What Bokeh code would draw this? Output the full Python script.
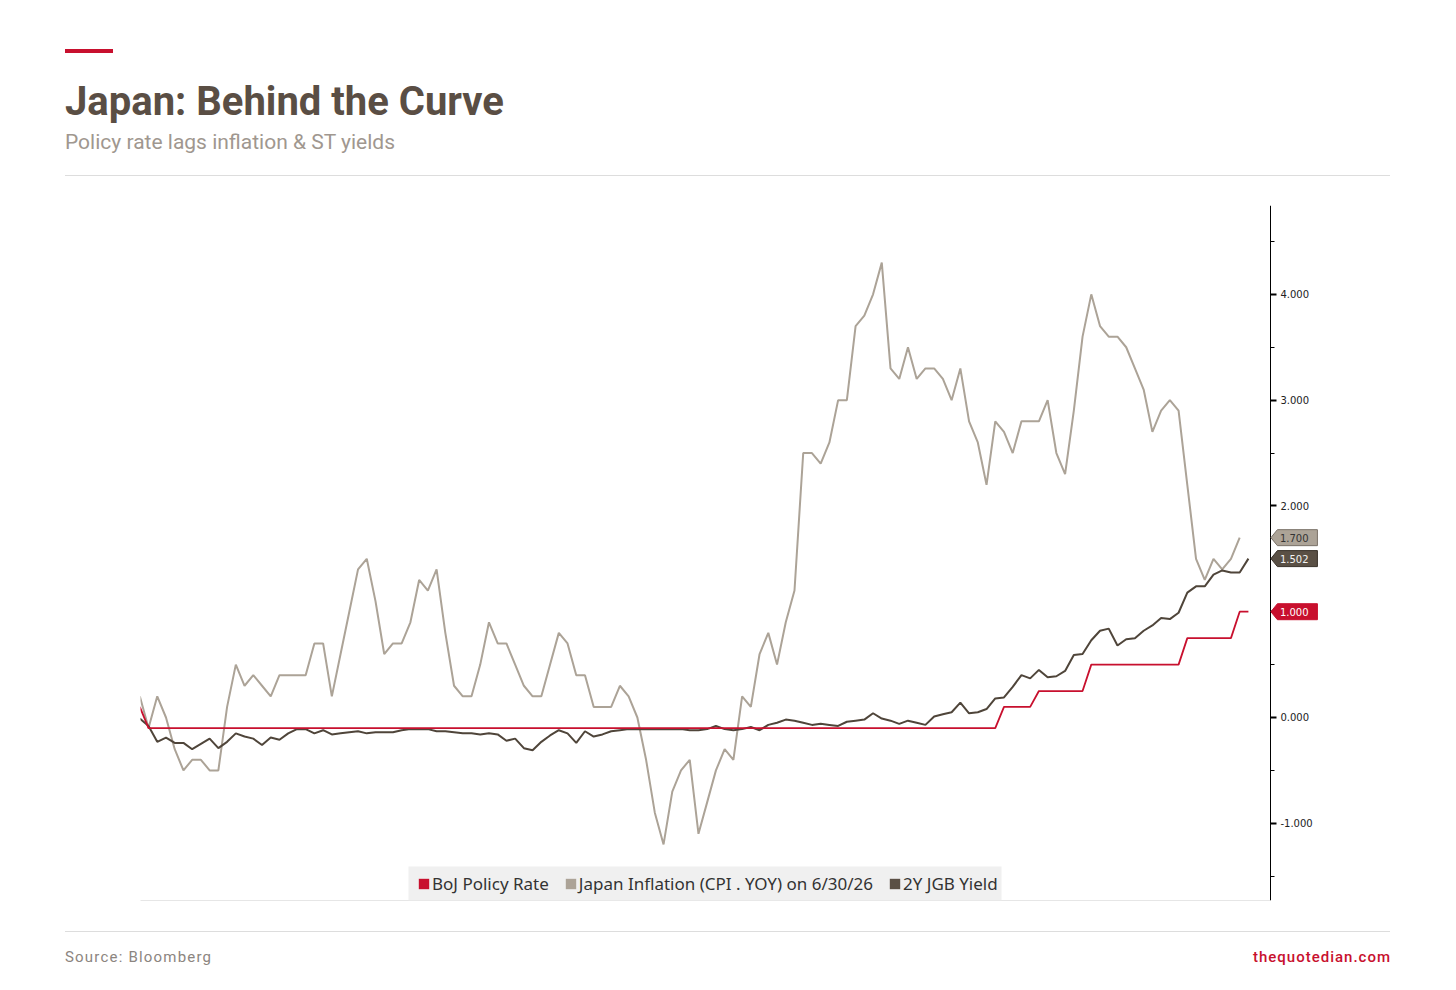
from bokeh.plotting import figure
from bokeh.models import (Range1d, SingleIntervalTicker, NumeralTickFormatter, FixedTicker,
                          Legend, LegendItem, Div, ColumnDataSource, BoxAnnotation)
from bokeh.layouts import column
from bokeh.embed import file_html
from bokeh.resources import INLINE
from bokeh.core.properties import value

# ---------------- data (monthly, Dec 2015 .. Jul 2026) ----------------
months = []
for yr in range(2015, 2027):
    for mo in range(1, 13):
        if (yr == 2015 and mo < 12) or (yr == 2026 and mo > 7):
            continue
        months.append(f"{yr}-{mo:02d}")

boj_policy_rate = [
    0.10,
    -0.10, -0.10, -0.10, -0.10, -0.10, -0.10, -0.10, -0.10, -0.10, -0.10, -0.10, -0.10,  # 2016
    -0.10, -0.10, -0.10, -0.10, -0.10, -0.10, -0.10, -0.10, -0.10, -0.10, -0.10, -0.10,  # 2017
    -0.10, -0.10, -0.10, -0.10, -0.10, -0.10, -0.10, -0.10, -0.10, -0.10, -0.10, -0.10,  # 2018
    -0.10, -0.10, -0.10, -0.10, -0.10, -0.10, -0.10, -0.10, -0.10, -0.10, -0.10, -0.10,  # 2019
    -0.10, -0.10, -0.10, -0.10, -0.10, -0.10, -0.10, -0.10, -0.10, -0.10, -0.10, -0.10,  # 2020
    -0.10, -0.10, -0.10, -0.10, -0.10, -0.10, -0.10, -0.10, -0.10, -0.10, -0.10, -0.10,  # 2021
    -0.10, -0.10, -0.10, -0.10, -0.10, -0.10, -0.10, -0.10, -0.10, -0.10, -0.10, -0.10,  # 2022
    -0.10, -0.10, -0.10, -0.10, -0.10, -0.10, -0.10, -0.10, -0.10, -0.10, -0.10, -0.10,  # 2023
    -0.10, -0.10, 0.10, 0.10, 0.10, 0.10, 0.25, 0.25, 0.25, 0.25, 0.25, 0.25,            # 2024
    0.50, 0.50, 0.50, 0.50, 0.50, 0.50, 0.50, 0.50, 0.50, 0.50, 0.50, 0.75,              # 2025
    0.75, 0.75, 0.75, 0.75, 0.75, 1.00, 1.00,                                            # 2026
]

japan_cpi_yoy = [
    0.2,
    -0.1, 0.2, 0.0, -0.3, -0.5, -0.4, -0.4, -0.5, -0.5, 0.1, 0.5, 0.3,   # 2016
    0.4, 0.3, 0.2, 0.4, 0.4, 0.4, 0.4, 0.7, 0.7, 0.2, 0.6, 1.0,          # 2017
    1.4, 1.5, 1.1, 0.6, 0.7, 0.7, 0.9, 1.3, 1.2, 1.4, 0.8, 0.3,          # 2018
    0.2, 0.2, 0.5, 0.9, 0.7, 0.7, 0.5, 0.3, 0.2, 0.2, 0.5, 0.8,          # 2019
    0.7, 0.4, 0.4, 0.1, 0.1, 0.1, 0.3, 0.2, 0.0, -0.4, -0.9, -1.2,       # 2020
    -0.7, -0.5, -0.4, -1.1, -0.8, -0.5, -0.3, -0.4, 0.2, 0.1, 0.6, 0.8,  # 2021
    0.5, 0.9, 1.2, 2.5, 2.5, 2.4, 2.6, 3.0, 3.0, 3.7, 3.8, 4.0,          # 2022
    4.3, 3.3, 3.2, 3.5, 3.2, 3.3, 3.3, 3.2, 3.0, 3.3, 2.8, 2.6,          # 2023
    2.2, 2.8, 2.7, 2.5, 2.8, 2.8, 2.8, 3.0, 2.5, 2.3, 2.9, 3.6,          # 2024
    4.0, 3.7, 3.6, 3.6, 3.5, 3.3, 3.1, 2.7, 2.9, 3.0, 2.9, 2.2,          # 2025
    1.5, 1.3, 1.5, 1.4, 1.5, 1.7,                                        # 2026
]

jgb_2y_yield = [
    -0.01,
    -0.08, -0.23, -0.19, -0.24, -0.24, -0.30, -0.25, -0.20, -0.29, -0.23, -0.15, -0.18,  # 2016
    -0.20, -0.26, -0.19, -0.21, -0.15, -0.11, -0.11, -0.15, -0.12, -0.16, -0.15, -0.14,  # 2017
    -0.13, -0.15, -0.14, -0.14, -0.14, -0.12, -0.11, -0.11, -0.11, -0.13, -0.13, -0.14,  # 2018
    -0.15, -0.15, -0.16, -0.15, -0.16, -0.22, -0.20, -0.29, -0.31, -0.23, -0.17, -0.12,  # 2019
    -0.15, -0.24, -0.13, -0.18, -0.16, -0.13, -0.12, -0.11, -0.11, -0.11, -0.11, -0.11,  # 2020
    -0.11, -0.11, -0.12, -0.12, -0.11, -0.08, -0.11, -0.12, -0.11, -0.09, -0.12, -0.07,  # 2021
    -0.05, -0.02, -0.03, -0.05, -0.07, -0.06, -0.07, -0.08, -0.04, -0.03, -0.02, 0.04,   # 2022
    -0.01, -0.03, -0.06, -0.03, -0.05, -0.07, 0.01, 0.03, 0.05, 0.14, 0.04, 0.05,        # 2023
    0.08, 0.18, 0.19, 0.29, 0.40, 0.37, 0.45, 0.38, 0.39, 0.44, 0.59, 0.60,              # 2024
    0.73, 0.82, 0.84, 0.68, 0.74, 0.75, 0.82, 0.87, 0.94, 0.93, 0.99, 1.18,              # 2025
    1.24, 1.24, 1.35, 1.39, 1.37, 1.37, 1.502,                                           # 2026
]

series_names = ["BoJ Policy Rate", "Japan Inflation (CPI . YOY) on 6/30/26", "2Y JGB Yield"]
last_labels = ["1.000", "1.700", "1.502"]

RED = "#c8102e"
TAUPE = "#aca397"
BROWN = "#4f453a"

x_pos = list(range(len(months)))

# ---------------- geometry ----------------
PX_PER_X = 8.7292            # pixels per month
X0 = 0.08                    # data x at frame left
AXIS_X = 129.52              # data x where the value axis sits
FRAME_W = 1180
X1 = X0 + FRAME_W / PX_PER_X  # frame extends past the axis to hold the value tags

p = figure(width=1456, height=750,
           x_range=Range1d(X0, X1), y_range=Range1d(-1.73, 4.84),
           output_backend="svg", toolbar_location=None,
           y_axis_location="right", x_axis_location="below",
           min_border_left=140, min_border_right=1456 - 140 - FRAME_W,
           min_border_top=29, min_border_bottom=26,
           outline_line_color=None, background_fill_color="white",
           border_fill_color="white")
p.xgrid.visible = False
p.ygrid.visible = False

xa = p.xaxis[0]
xa.ticker = FixedTicker(ticks=[])
xa.bounds = (X0, AXIS_X)
xa.axis_line_color = "#e6e6e6"
xa.major_tick_line_color = None
xa.minor_tick_line_color = None
xa.major_label_text_font_size = "0px"

ya = p.yaxis[0]
ya.fixed_location = AXIS_X
ya.ticker = SingleIntervalTicker(interval=1, num_minor_ticks=2)
ya.formatter = NumeralTickFormatter(format="0.000")
ya.axis_line_color = "black"
ya.axis_line_width = 1
ya.major_tick_in = 0
ya.major_tick_out = 6
ya.major_tick_line_width = 2
ya.major_tick_line_color = "black"
ya.minor_tick_in = 0
ya.minor_tick_out = 4
ya.minor_tick_line_color = "black"
ya.major_label_standoff = 4
ya.major_label_text_font = "DejaVu Sans"
ya.major_label_text_font_size = "10px"
ya.major_label_text_color = "#222222"

# lines
p.line(x_pos[:len(japan_cpi_yoy)], japan_cpi_yoy, line_color=TAUPE, line_width=2)
p.line(x_pos[:len(jgb_2y_yield)], jgb_2y_yield, line_color=BROWN, line_width=2)
p.line(x_pos[:len(boj_policy_rate)], boj_policy_rate, line_color=RED, line_width=1.8)

# legend proxies: zero-size boxes on the data (invisible), square swatches in legend
def proxy(vals, color):
    xs = x_pos[:len(vals)]
    return p.quad(left=xs, right=xs, bottom=vals, top=vals,
                  fill_color=color, line_color=None)

prox_red = proxy(boj_policy_rate, RED)
prox_tau = proxy(japan_cpi_yoy, TAUPE)
prox_brn = proxy(jgb_2y_yield, "#5b5045")

# legend background panel (frame-relative pixels)
p.add_layout(BoxAnnotation(left=268, right=861, bottom=0, top=34,
                           left_units="screen", right_units="screen",
                           bottom_units="screen", top_units="screen",
                           fill_color="#f0f0f0", fill_alpha=1.0, line_color=None))
legend = Legend(items=[LegendItem(label=series_names[0], renderers=[prox_red]),
                       LegendItem(label=series_names[1], renderers=[prox_tau]),
                       LegendItem(label=series_names[2], renderers=[prox_brn])],
                location=(277, 0), orientation="horizontal",
                background_fill_alpha=0.0, border_line_color=None,
                label_text_font="Noto Sans",
                label_text_font_size="17px", label_text_color="#333333",
                glyph_width=13, glyph_height=13, label_standoff=2, spacing=15,
                padding=0, margin=0, label_height=34)
p.add_layout(legend, "center")

# last-value tags sitting on the value axis
tag_vals = [boj_policy_rate[-1], japan_cpi_yoy[-1], jgb_2y_yield[-1]]
tip = AXIS_X + 0.5 / PX_PER_X
b0 = AXIS_X + 7.0 / PX_PER_X
b1 = AXIS_X + 47.0 / PX_PER_X
hh = 8.0 / 105.78
tags = ColumnDataSource(dict(
    xs=[[tip, b0, b1, b1, b0] for _ in tag_vals],
    ys=[[v, v + hh, v + hh, v - hh, v - hh] for v in tag_vals],
    fill=[RED, TAUPE, "#5a5045"],
    edge=[RED, "#7a7168", "#3a322a"],
    tx=[AXIS_X + 9.5 / PX_PER_X for _ in tag_vals],
    ty=tag_vals,
    label=last_labels,
    tcol=["white", "#333333", "#f2f2f2"],
))
p.patches("xs", "ys", source=tags, fill_color="fill", line_color="edge",
          line_width=1, level="overlay")
p.text("tx", "ty", text="label", source=tags, text_color="tcol",
       text_font=value("DejaVu Sans"), text_font_size=value("10px"),
       text_baseline="middle", text_align="left", level="overlay")

# ---------------- header / footer ----------------
header_html = """
<div style="position:relative;width:1456px;height:176px;background:#ffffff;">
  <div style="position:absolute;left:65px;top:49px;width:48px;height:4px;background:#c8102e;"></div>
  <div style="position:absolute;left:65px;top:82px;font-family:Roboto;font-weight:700;font-size:40px;line-height:40px;color:#5a4e44;white-space:nowrap;">Japan: Behind the Curve</div>
  <div style="position:absolute;left:65px;top:132px;font-family:Roboto;font-weight:400;font-size:21px;line-height:21px;color:#a0978f;white-space:nowrap;">Policy rate lags inflation &amp; ST yields</div>
  <div style="position:absolute;left:65px;top:175px;width:1325px;height:1px;background:#dddddd;"></div>
</div>
"""
footer_html = """
<div style="position:relative;width:1456px;height:56px;background:#ffffff;">
  <div style="position:absolute;left:65px;top:5px;width:1325px;height:1px;background:#dddddd;"></div>
  <div style="position:absolute;left:65px;top:24px;font-family:Roboto;font-size:15px;line-height:15px;letter-spacing:1.2px;color:#8c8580;white-space:nowrap;">Source: Bloomberg</div>
  <div style="position:absolute;right:65px;top:24px;font-family:Roboto;font-weight:500;font-size:15px;line-height:15px;letter-spacing:1px;color:#c8102e;white-space:nowrap;">thequotedian.com</div>
</div>
"""
header = Div(text=header_html, width=1456, height=176, margin=(0, 0, 0, 0))
footer = Div(text=footer_html, width=1456, height=56, margin=(0, 0, 0, 0))

layout = column(header, p, footer, spacing=0)
open("out.html", "w").write(file_html(layout, INLINE))
